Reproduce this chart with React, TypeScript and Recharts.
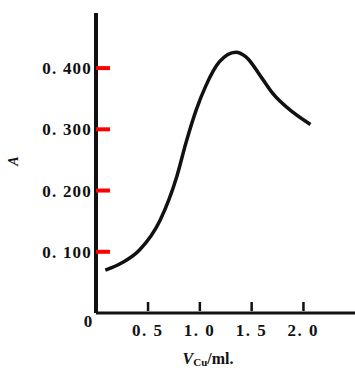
import { LineChart, Line, XAxis, YAxis, Customized } from 'recharts';

// V_Cu (ml) vs absorbance A
const volumes = [0.09, 0.25, 0.42, 0.62, 0.78, 0.87, 0.97, 1.06, 1.19, 1.35, 1.45, 1.6, 1.7, 1.9, 2.07];
const absorbance = [0.07, 0.082, 0.103, 0.152, 0.223, 0.279, 0.333, 0.371, 0.41, 0.426, 0.418, 0.384, 0.36, 0.328, 0.308];

const xTicks = [0, 0.5, 1.0, 1.5, 2.0];
const xTickLabels = ['0', '0. 5', '1. 0', '1. 5', '2. 0'];
const yTicks = [0.1, 0.2, 0.3, 0.4];
const yTickLabels = ['0. 100', '0. 200', '0. 300', '0. 400'];

const data = volumes.map((v, i) => ({ v, a: absorbance[i] }));

const FONT = '"Liberation Serif", "DejaVu Serif", serif';

function XTick(props: any) {
  const { x, y, payload } = props;
  const i = xTicks.indexOf(payload.value);
  if (payload.value === 0) {
    return (
      <text x={x - 8} y={y + 14} textAnchor="middle" fontFamily={FONT} fontSize={17} fontWeight="bold" fill="#111">
        0
      </text>
    );
  }
  return (
    <g>
      <rect x={x - 1} y={y - 11} width={2.5} height={9} fill="#111" />
      <text x={x} y={y + 23} textAnchor="middle" fontFamily={FONT} fontSize={17} fontWeight="bold" letterSpacing={1.5} fill="#111">
        {xTickLabels[i]}
      </text>
    </g>
  );
}

function YTick(props: any) {
  const { x, y, payload } = props;
  const i = yTicks.indexOf(payload.value);
  return (
    <g>
      <rect x={x} y={y - 2} width={14} height={4} fill="red" />
      <text x={x - 4} y={y + 6} textAnchor="end" fontFamily={FONT} fontSize={17} fontWeight="bold" letterSpacing={1.2} fill="#111">
        {yTickLabels[i]}
      </text>
    </g>
  );
}

function AxisTitles() {
  return (
    <g fontFamily={FONT} fill="#111">
      <text x={23} y={166} textAnchor="middle" fontSize={14} fontStyle="italic" fontWeight="bold" transform="rotate(-90 18 166)">
        A
      </text>
      <text x={208} y={364} textAnchor="middle" fontSize={16} fontWeight="bold">
        <tspan fontStyle="italic">V</tspan>
        <tspan fontSize={11} dy={2}>Cu</tspan>
        <tspan dy={-2}>/ml.</tspan>
      </text>
    </g>
  );
}

export default function App() {
  return (
    <div style={{ position: 'absolute', left: 0, top: 0, background: '#fff' }}>
      <LineChart width={355} height={370} data={data} margin={{ top: 13, right: 0, left: 36, bottom: 27 }}>
        <XAxis
          dataKey="v"
          type="number"
          domain={[0, 2.5]}
          ticks={xTicks}
          tick={<XTick />}
          tickLine={false}
          tickSize={0}
          tickMargin={0}
          height={30}
          axisLine={{ stroke: '#111', strokeWidth: 3 }}
          interval={0}
        />
        <YAxis
          type="number"
          domain={[0, 0.49]}
          ticks={yTicks}
          tick={<YTick />}
          tickLine={false}
          tickSize={0}
          tickMargin={0}
          width={60}
          axisLine={{ stroke: '#111', strokeWidth: 4 }}
          interval={0}
        />
        <Line
          dataKey="a"
          type="monotone"
          stroke="#111"
          strokeWidth={3.5}
          dot={false}
          isAnimationActive={false}
        />
        <Customized component={AxisTitles} />
      </LineChart>
    </div>
  );
}
